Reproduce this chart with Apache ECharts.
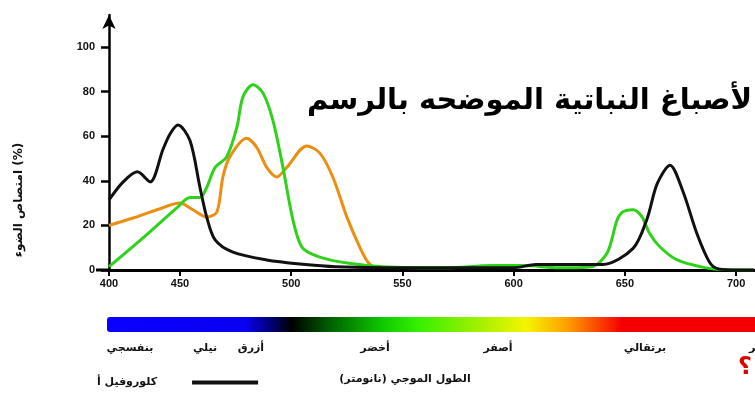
<!DOCTYPE html>
<html>
<head>
<meta charset="utf-8">
<script src="https://cdn.jsdelivr.net/npm/echarts@6/dist/echarts.min.js"></script>
<style>
  html, body { margin: 0; padding: 0; background: #fff; }
  #chart { width: 755px; height: 403px; }
</style>
</head>
<body>
<div id="chart"></div>
<script>
// Absorption spectra of plant pigments (wavelength in nm, absorption in %)
const chlANm  = [400, 410, 420, 429, 438, 443, 448.6, 454.5, 459, 462, 465.8, 473.8, 489, 504, 520, 560, 600, 610, 640, 653.7, 660, 664.5, 670.3, 676, 682.5, 688, 692, 700, 708];
const chlAAbs = [31.4, 39.5, 44, 39.5, 54, 61, 65, 58, 37, 23.8, 13.5, 8, 4.5, 2.7, 1.5, 1, 1, 2.5, 2.5, 9.7, 23, 38.6, 47, 35.5, 16, 3.6, 0.5, 0, 0];

const chlBNm  = [400, 425, 448, 454.5, 459, 462, 465.8, 471, 475.6, 478.3, 482.8, 487.3, 491.8, 496.3, 500.8, 505, 512.8, 526, 541, 570, 590, 605, 620, 635, 642, 646.5, 649, 653.7, 657.7, 661, 665.8, 673.5, 683.8, 690, 708];
const chlBAbs = [1.5, 15, 28, 32.5, 32.5, 37, 46, 50.7, 64, 77.6, 83, 79.4, 67, 46, 22.4, 10, 5.8, 3, 1.5, 1, 2, 2, 1, 1.5, 7.6, 22.4, 26, 27, 23.8, 16.6, 10.3, 4.5, 1.5, 0.5, 0];

const carNm  = [400, 417, 433.8, 450, 455.8, 462, 466.6, 469.3, 472.4, 480, 484.5, 489, 493.6, 498, 507, 512.8, 518.7, 525, 530.8, 534.5, 537.5];
const carAbs = [20, 23.3, 27, 30, 27, 23.8, 26, 41.7, 50.7, 59, 55, 46, 41.7, 46, 55.6, 52.5, 41.7, 23.8, 10.3, 3.5, 0.8];

const xTicks = [400, 450, 500, 550, 600, 650, 700];
const yTicks = [0, 20, 40, 60, 80, 100];

const colourNames = ['بنفسجي', 'نيلي', 'أزرق', 'أخضر', 'أصفر', 'برتقالي', 'أحمر'];
const colourNameX = [130, 205, 251, 375, 498, 645, 762];

const titleText = 'لأصباغ النباتية الموضحه بالرسم';
const yName = 'امتصاص الضوء (%)';
const xName = 'الطول الموجي (نانومتر)';
const legendName = 'كلوروفيل أ';

// The 400-450 nm stretch of the wavelength scale is drawn compressed.
const K = 0.638;
const toAxis = nm => nm >= 450 ? nm : 450 - (450 - nm) * K;
const fromAxis = u => u >= 450 ? u : 450 - (450 - u) / K;

const pairs = (xs, ys) => xs.map((x, i) => [toAxis(x), ys[i]]);

const arabicFont = '"DejaVu Sans", "Noto Sans", sans-serif';
const numFont = '"Liberation Sans", Arial, sans-serif';

const chart = echarts.init(document.getElementById('chart'), null, { renderer: 'canvas' });

const labelGraphics = colourNames.map((t, i) => ({
  type: 'text',
  x: colourNameX[i],
  y: 348,
  style: {
    text: t,
    font: 'bold 11px ' + arabicFont,
    fill: '#111',
    align: 'center',
    verticalAlign: 'middle'
  }
}));

const lineSeries = (name, xs, ys, color, z) => ({
  name,
  type: 'line',
  smooth: 0.3,
  showSymbol: false,
  clip: true,
  data: pairs(xs, ys),
  lineStyle: { color, width: 3 },
  itemStyle: { color },
  z
});

chart.setOption({
  animation: false,
  backgroundColor: '#fff',
  title: {
    text: titleText,
    right: -2,
    top: 82,
    textStyle: { fontFamily: arabicFont, fontWeight: 'bold', fontSize: 29, color: '#000' }
  },
  grid: { left: 109, right: 0, top: 15, bottom: 133, containLabel: false },
  legend: {
    data: [legendName],
    left: 92,
    top: 372,
    align: 'right',
    icon: 'rect',
    itemWidth: 66,
    itemHeight: 4,
    textStyle: { fontFamily: arabicFont, fontWeight: 'bold', fontSize: 11, color: '#111', padding: [0, 30, 0, 0] }
  },
  xAxis: {
    type: 'value',
    min: toAxis(400),
    max: 708.5,
    axisLine: { lineStyle: { color: '#000', width: 3 } },
    axisTick: { show: true, length: 6, inside: false, customValues: xTicks.map(toAxis), lineStyle: { color: '#000', width: 2 } },
    axisLabel: {
      customValues: xTicks.map(toAxis),
      formatter: v => String(Math.round(fromAxis(v))),
      fontFamily: numFont, fontWeight: 'bold', fontSize: 11, color: '#111', margin: 8
    },
    splitLine: { show: false }
  },
  yAxis: {
    type: 'value',
    min: 0,
    max: 114.3,
    axisLine: { show: true, symbol: ['none', 'arrow'], symbolSize: [10, 14], lineStyle: { color: '#000', width: 2.5 } },
    axisTick: { show: true, length: 8, customValues: yTicks, lineStyle: { color: '#000', width: 2.5 } },
    axisLabel: {
      customValues: yTicks,
      fontFamily: numFont, fontWeight: 'bold', fontSize: 11, color: '#111', margin: 14
    },
    splitLine: { show: false }
  },
  series: [
    lineSeries('carotenoids', carNm, carAbs, '#ec8e10', 2),
    lineSeries('chlorophyll b', chlBNm, chlBAbs, '#2fd21a', 3),
    lineSeries(legendName, chlANm, chlAAbs, '#111', 4)
  ],
  graphic: [
    {
      type: 'line',
      shape: { x1: 96, y1: 270, x2: 110, y2: 270 },
      style: { stroke: '#000', lineWidth: 3 }
    },
    {
      type: 'text',
      x: 19,
      y: 200,
      rotation: Math.PI / 2,
      style: { text: yName, font: 'bold 12px ' + arabicFont, fill: '#111', align: 'center', verticalAlign: 'middle' }
    },
    {
      type: 'rect',
      shape: { x: 107, y: 317, width: 660, height: 15, r: 3 },
      style: {
        fill: {
          type: 'linear', x: 0, y: 0, x2: 1, y2: 0,
          colorStops: [
            { offset: 0, color: '#0a00ff' },
            { offset: 0.21, color: '#0800f0' },
            { offset: 0.255, color: '#000060' },
            { offset: 0.28, color: '#000000' },
            { offset: 0.34, color: '#006400' },
            { offset: 0.42, color: '#10cc00' },
            { offset: 0.47, color: '#33f000' },
            { offset: 0.57, color: '#aaf000' },
            { offset: 0.635, color: '#f5f500' },
            { offset: 0.7, color: '#ff9a00' },
            { offset: 0.78, color: '#f50000' },
            { offset: 1, color: '#f50000' }
          ]
        }
      }
    },
    ...labelGraphics,
    {
      type: 'text',
      x: 405,
      y: 379,
      style: { text: xName, font: 'bold 11px ' + arabicFont, fill: '#111', align: 'center', verticalAlign: 'middle' }
    },
    {
      type: 'text',
      x: 745,
      y: 368,
      style: { text: '؟', font: 'bold 24px ' + arabicFont, fill: '#e00000', align: 'center', verticalAlign: 'middle' }
    }
  ]
});
</script>
</body>
</html>
